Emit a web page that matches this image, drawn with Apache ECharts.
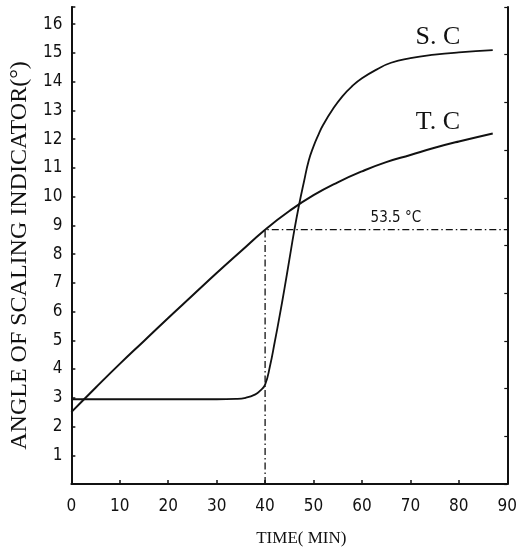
<!DOCTYPE html>
<html>
<head>
<meta charset="utf-8">
<script src="https://cdn.jsdelivr.net/npm/echarts@6/dist/echarts.min.js"></script>
<style>
html, body { margin: 0; padding: 0; background: #fff; }
#chartBox { width: 520px; height: 552px; }
</style>
</head>
<body>
<div id="chartBox"></div>
<script>
// 时间 (min) 与 两条曲线的读数
const tcTime = [0, 5, 10, 15, 20, 25, 30, 35, 40, 45, 50, 55, 60, 65, 70, 75, 80, 87]
const tcAngle = [2.5, 3.35, 4.18, 4.98, 5.78, 6.56, 7.34, 8.1, 8.85, 9.5, 10.05, 10.5, 10.88, 11.2, 11.45, 11.7, 11.92, 12.2]

const scTime = [0, 10, 20, 30, 34, 36, 38, 39, 40, 41, 42, 43, 44, 45, 46, 47, 48, 49, 50, 51, 52, 54, 56, 58, 60, 63, 66, 70, 75, 80, 87]
const scAngle = [2.95, 2.95, 2.95, 2.95, 2.96, 3.0, 3.12, 3.25, 3.46, 4.1, 4.95, 5.85, 6.8, 7.8, 8.8, 9.7, 10.5, 11.25, 11.75, 12.15, 12.5, 13.05, 13.5, 13.85, 14.12, 14.42, 14.66, 14.82, 14.94, 15.02, 15.1]

// 53.5°C 参考线
const refTime = [40, 40, 90]
const refAngle = [0, 8.85, 8.85]

const xTicks = [0, 10, 20, 30, 40, 50, 60, 70, 80, 90]

const pairs = (xs, ys) => xs.map((x, i) => [x, ys[i]])

const labelFont = "'Liberation Sans Narrow', 'DejaVu Sans Condensed', sans-serif"
const serifFont = "'Liberation Serif', 'DejaVu Serif', serif"

let myChart = echarts.init(document.getElementById('chartBox'))
myChart.setOption({
  animation: false,
  backgroundColor: '#fff',
  grid: { left: 67, right: 10, top: 7, bottom: 59 },
  xAxis: {
    type: 'value',
    min: xTicks[0],
    max: xTicks[xTicks.length - 1],
    interval: 10,
    name: 'TIME( MIN)',
    nameLocation: 'middle',
    nameGap: 46,
    nameTextStyle: { fontFamily: serifFont, fontSize: 17, color: '#111', padding: [0, 0, 0, 24] },
    axisLine: { lineStyle: { color: '#111', width: 2 } },
    axisTick: { inside: true, length: 4, lineStyle: { color: '#111', width: 1.5 } },
    axisLabel: { fontFamily: labelFont, fontSize: 17, color: '#111', margin: 14 },
    splitLine: { show: false }
  },
  yAxis: [
    {
      type: 'value',
      min: 0,
      max: 16.6,
      interval: 1,
      name: 'ANGLE OF SCALING INDICATOR(°)',
      nameLocation: 'middle',
      nameGap: 38,
      nameTextStyle: { fontFamily: serifFont, fontSize: 24, color: '#111', padding: [0, 20, 0, 0] },
      axisLine: { lineStyle: { color: '#111', width: 2 } },
      axisTick: { inside: true, length: 4, lineStyle: { color: '#111', width: 1.5 } },
      axisLabel: {
        fontFamily: labelFont,
        fontSize: 17,
        color: '#111',
        margin: 9,
        formatter: v => (Number.isInteger(v) && v > 0 ? String(v) : '')
      },
      splitLine: { show: false }
    },
    {
      type: 'value',
      position: 'right',
      min: 0,
      max: 10,
      interval: 1,
      axisLine: { show: true, lineStyle: { color: '#111', width: 2 } },
      axisTick: { show: true, inside: true, length: 3, lineStyle: { color: '#111', width: 1.2 } },
      axisLabel: { show: false },
      splitLine: { show: false }
    }
  ],
  series: [
    {
      name: 'T.C',
      type: 'line',
      smooth: 0.5,
      symbol: 'none',
      data: pairs(tcTime, tcAngle),
      lineStyle: { color: '#111', width: 2 },
      markPoint: {
        symbol: 'circle',
        symbolSize: 0,
        label: { show: true, fontFamily: serifFont, fontSize: 26, color: '#111', formatter: '{b}' },
        data: [
          { name: 'T. C', coord: [75.7, 12.6] },
          { name: 'S. C', coord: [75.7, 15.56] }
        ]
      }
    },
    {
      name: 'S.C',
      type: 'line',
      smooth: 0.5,
      symbol: 'none',
      data: pairs(scTime, scAngle),
      lineStyle: { color: '#111', width: 1.8 }
    },
    {
      name: '53.5°C',
      type: 'line',
      symbol: 'none',
      data: pairs(refTime, refAngle),
      lineStyle: { color: '#111', width: 1.3, type: [7, 3, 1.5, 3] },
      markPoint: {
        symbol: 'circle',
        symbolSize: 0,
        label: { show: true, fontFamily: labelFont, fontSize: 15, color: '#111', formatter: '{b}' },
        data: [{ name: '53.5 °C', coord: [67, 9.26] }]
      }
    }
  ]
})
</script>
</body>
</html>
